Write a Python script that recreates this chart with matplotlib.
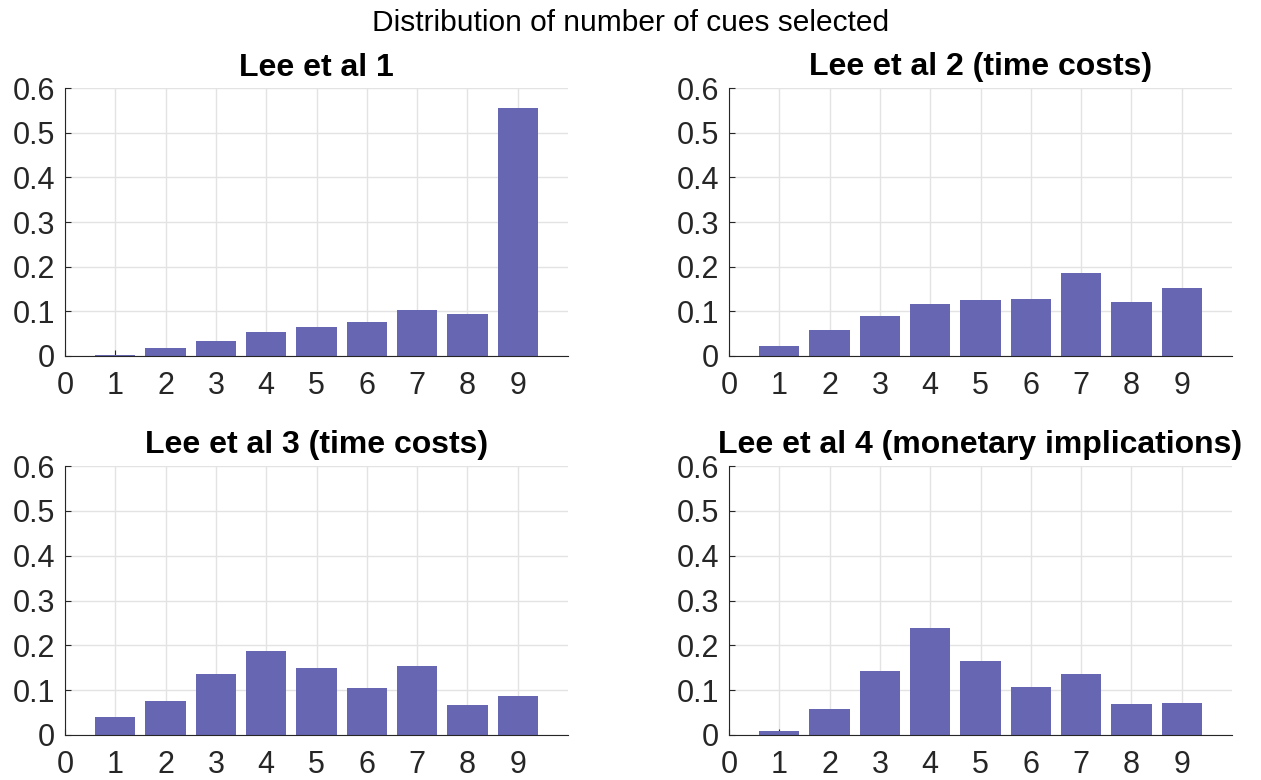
import matplotlib
matplotlib.use("Agg")
import matplotlib.pyplot as plt
import numpy as np

plt.rcParams['font.family'] = ['Liberation Sans', 'DejaVu Sans']

cues = [0, 1, 2, 3, 4, 5, 6, 7, 8, 9]
titles = ["Lee et al 1", "Lee et al 2 (time costs)",
          "Lee et al 3 (time costs)", "Lee et al 4 (monetary implications)"]
lee1 = [0.001, 0.002, 0.018, 0.034, 0.054, 0.065, 0.076, 0.103, 0.094, 0.555]
lee2 = [0.001, 0.022, 0.058, 0.090, 0.117, 0.126, 0.128, 0.186, 0.121, 0.152]
lee3 = [0.001, 0.041, 0.075, 0.135, 0.187, 0.149, 0.104, 0.155, 0.066, 0.086]
lee4 = [0.001, 0.010, 0.057, 0.142, 0.238, 0.164, 0.108, 0.137, 0.070, 0.072]
series = [lee1, lee2, lee3, lee4]
yticks = [0, 0.1, 0.2, 0.3, 0.4, 0.5, 0.6]
ytick_labels = ["0", "0.1", "0.2", "0.3", "0.4", "0.5", "0.6"]

W, H = 1261, 780
fig = plt.figure(figsize=(W / 100, H / 100), dpi=100)

# pixel boxes: (left, right, top, bottom)
boxes = [(65, 568, 88, 356), (729, 1232, 88, 356),
         (65, 568, 466, 735), (729, 1232, 466, 735)]

bar_color = '#6666B2'
for vals, title, (l, r, t, b) in zip(series, titles, boxes):
    ax = fig.add_axes([l / W, 1 - b / H, (r - l) / W, (b - t) / H])
    ax.bar(cues, vals, width=0.8, color=bar_color, zorder=2)
    ax.set_xlim(0, 10)
    ax.set_ylim(0, 0.6)
    ax.set_xticks(cues)
    ax.set_xticklabels([str(c) for c in cues])
    ax.set_yticks(yticks)
    ax.set_yticklabels(ytick_labels)
    ax.grid(True, color='#e3e3e3', linewidth=1, zorder=0)
    ax.set_axisbelow(True)
    for s in ['top', 'right']:
        ax.spines[s].set_visible(False)
    ax.spines['left'].set_color('#262626')
    ax.spines['bottom'].set_color('#262626')
    ax.spines['bottom'].set_zorder(3)
    ax.tick_params(direction='in', length=4, width=0.8, colors='#262626',
                   labelsize=22)
    ax.tick_params(axis='y', pad=7)
    ax.tick_params(axis='x', pad=11)
    ax.set_title(title, fontsize=23, fontweight='bold', pad=9)

fig.text(0.5, 1 - 31 / H, "Distribution of number of cues selected",
         ha='center', va='baseline', fontsize=21.5)

fig.savefig("out.png", dpi=100, facecolor='white')
